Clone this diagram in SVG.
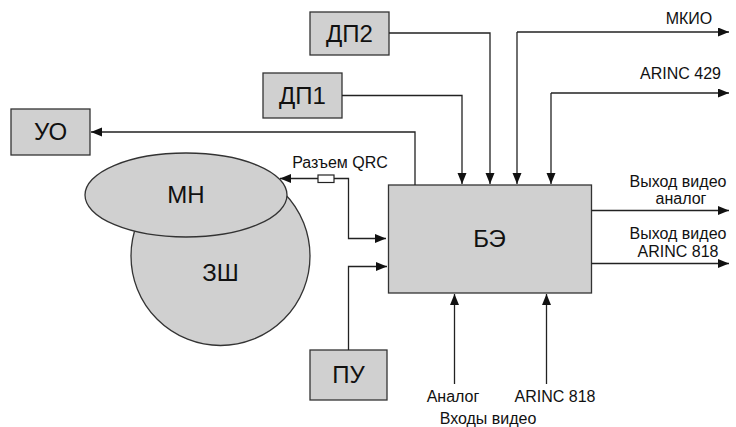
<svg xmlns="http://www.w3.org/2000/svg" width="736" height="427" viewBox="0 0 736 427">
<style>
.box{fill:#d0d0d0;stroke:#333;stroke-width:1.3}
.big{font-family:"Liberation Sans",Arial,sans-serif;font-size:24px;fill:#111;text-anchor:middle}
.lbl{font-family:"Liberation Sans",Arial,sans-serif;font-size:16px;fill:#111;text-anchor:middle}
.ln{fill:none;stroke:#222;stroke-width:1.3}
</style>
<defs>
<marker id="ah" markerUnits="userSpaceOnUse" markerWidth="12" markerHeight="10" refX="11" refY="4.5" orient="auto">
<path d="M0,0 L11,4.5 L0,9 z" fill="#111"/>
</marker>
<marker id="ahs" markerUnits="userSpaceOnUse" markerWidth="12" markerHeight="10" refX="11" refY="4.5" orient="auto-start-reverse">
<path d="M0,0 L11,4.5 L0,9 z" fill="#111"/>
</marker>
</defs>
<rect width="736" height="427" fill="#fff"/>
<g id="ZSh"><circle class="box" cx="220.5" cy="256" r="89.5"/><text class="big" x="220.5" y="281">ЗШ</text></g>
<g id="MN"><ellipse class="box" cx="186" cy="195" rx="101" ry="42"/><text class="big" x="186" y="203">МН</text></g>
<g id="DP2"><rect class="box" x="310" y="12" width="79" height="43"/><text class="big" x="349.5" y="42">ДП2</text></g>
<g id="DP1"><rect class="box" x="263" y="73" width="79" height="45"/><text class="big" x="302.5" y="104">ДП1</text></g>
<g id="UO"><rect class="box" x="11" y="109" width="79" height="46"/><text class="big" x="50.5" y="140">УО</text></g>
<g id="PU"><rect class="box" x="310" y="350" width="77" height="50"/><text class="big" x="348.5" y="383">ПУ</text></g>
<g id="BE"><rect class="box" x="388.5" y="185" width="203" height="108"/><text class="big" x="489.5" y="247">БЭ</text></g>
<g id="connectors">
<path class="ln" d="M415,185 V132 H91" marker-end="url(#ah)"/>
<path class="ln" d="M342,95.5 H462 V184" marker-end="url(#ah)"/>
<path class="ln" d="M389,33 H490 V184" marker-end="url(#ah)"/>
<path class="ln" d="M517,32 V184" marker-end="url(#ah)"/>
<path class="ln" d="M517,32 H729" marker-end="url(#ah)"/>
<path class="ln" d="M551,93 V184" marker-end="url(#ah)"/>
<path class="ln" d="M551,93 H729" marker-end="url(#ah)"/>
<path class="ln" d="M386,238.5 H348.5 V178.5 H280" marker-start="url(#ahs)" marker-end="url(#ah)"/>
<rect x="318" y="175" width="16" height="7.5" fill="#fff" stroke="#222" stroke-width="1.2"/>
<path class="ln" d="M348.5,350 V266.5 H387" marker-end="url(#ah)"/>
<path class="ln" d="M591.5,210.5 H729" marker-end="url(#ah)"/>
<path class="ln" d="M591.5,263.5 H729" marker-end="url(#ah)"/>
<path class="ln" d="M454.5,384 V294" marker-end="url(#ah)"/>
<path class="ln" d="M546.5,384 V294" marker-end="url(#ah)"/>
</g>
<g id="labels">
<text class="lbl" x="340" y="168">Разъем QRC</text>
<text class="lbl" x="689" y="24">МКИО</text>
<text class="lbl" x="680.5" y="79">ARINC 429</text>
<text class="lbl" x="678" y="187">Выход видео</text>
<text class="lbl" x="681" y="204">аналог</text>
<text class="lbl" x="678" y="239">Выход видео</text>
<text class="lbl" x="678" y="257">ARINC 818</text>
<text class="lbl" x="453" y="402">Аналог</text>
<text class="lbl" x="555" y="402">ARINC 818</text>
<text class="lbl" x="488" y="424">Входы видео</text>
</g>
</svg>
